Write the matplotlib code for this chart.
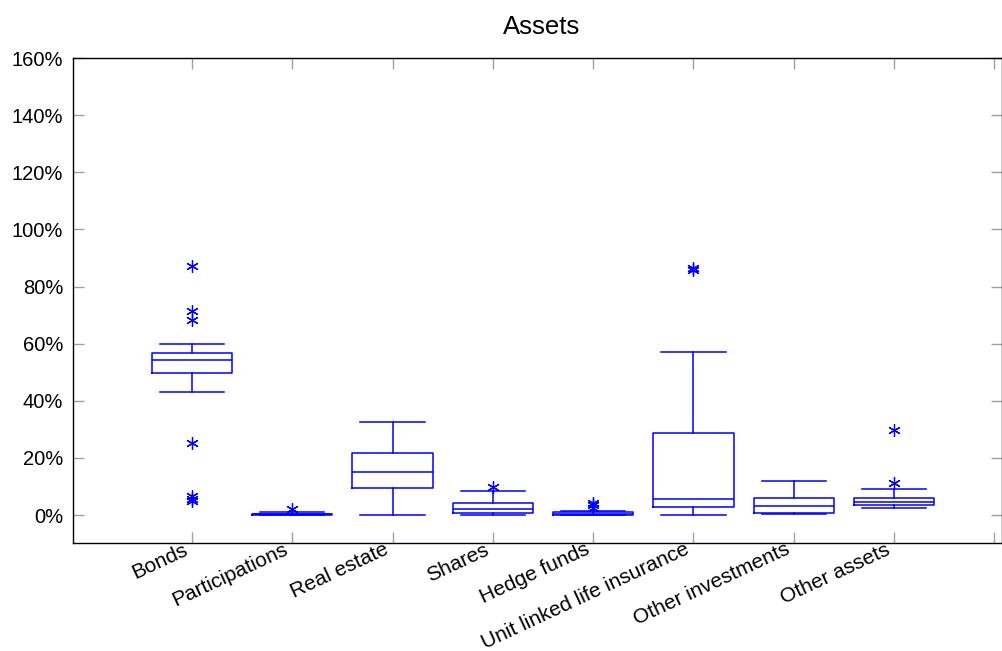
import matplotlib
matplotlib.use("Agg")
import matplotlib.pyplot as plt
from matplotlib.ticker import FuncFormatter
from matplotlib.transforms import ScaledTranslation

# box statistics (percent)
categories = ["Bonds", "Participations", "Real estate", "Shares", "Hedge funds",
              "Unit linked life insurance", "Other investments", "Other assets"]
whis_lo = [43.1, 0.0, 0.1, 0.1, 0.1, 0.1, 0.2, 2.6]
q1 = [49.6, 0.1, 9.3, 0.6, 0.1, 2.7, 0.6, 3.5]
median = [54.3, 0.2, 15.0, 2.0, 0.4, 5.5, 3.0, 4.6]
q3 = [56.6, 0.5, 21.8, 4.1, 1.2, 28.6, 5.8, 5.8]
whis_hi = [60.0, 1.0, 32.7, 8.5, 1.5, 57.0, 12.0, 9.0]
outliers = [
    [87.3, 71.4, 68.3, 25.1, 6.6, 5.7, 5.0],
    [2.2],
    [],
    [9.9],
    [4.3, 3.4, 2.6],
    [86.4, 85.8],
    [],
    [29.8, 11.1],
]

stats = []
for i, name in enumerate(categories):
    stats.append(dict(label=name, whislo=whis_lo[i], q1=q1[i], med=median[i],
                      q3=q3[i], whishi=whis_hi[i], fliers=outliers[i]))

plt.rcParams["font.family"] = ["Liberation Sans", "DejaVu Sans"]

fig = plt.figure(figsize=(10.03, 6.51), dpi=100)
ax = fig.add_axes([73 / 1003, 1 - 543 / 651, 929 / 1003, 485 / 651])

blue = (0, 0, 1)
line = dict(color=blue, linewidth=1.1)
ax.bxp(stats, positions=range(1, len(categories) + 1), widths=0.8, capwidths=0.64,
       boxprops=line, whiskerprops=line, capprops=line, medianprops=line,
       flierprops=dict(marker=(6, 2, 0), markersize=9, markeredgecolor=blue,
                       markerfacecolor=blue, markeredgewidth=0.9, linestyle="none"),
       manage_ticks=False)

ax.set_xlim(-0.186, 9.076)
ax.set_ylim(-9.8, 160)
ax.set_yticks(range(0, 161, 20))
ax.yaxis.set_major_formatter(FuncFormatter(lambda v, _: f"{v:.0f}%"))

ax.tick_params(direction="in", length=8, width=1, color="#a0a0a0",
               top=True, right=True, labelsize=14.5, pad=7)
ax.tick_params(axis="x", pad=4, labelsize=15)

ax.set_xticks(range(1, len(categories) + 2))
ax.set_xticklabels(categories + [""], rotation=25, ha="right", va="center",
                   rotation_mode="anchor")
shift = ScaledTranslation(-5 / 100, 0, fig.dpi_scale_trans)
for lbl in ax.get_xticklabels():
    lbl.set_transform(lbl.get_transform() + shift)

for s in ax.spines.values():
    s.set_linewidth(1.0)
    s.set_color("black")

ax.set_title("Assets", fontsize=18.5, pad=17, x=0.504)

fig.savefig("out.png", dpi=100)
